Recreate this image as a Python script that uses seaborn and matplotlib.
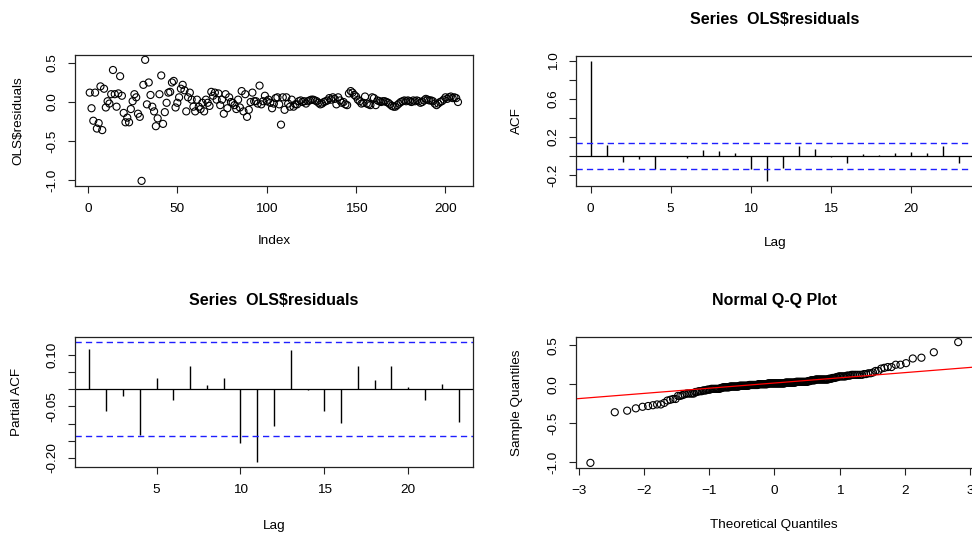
import numpy as np
import pandas as pd
import matplotlib
matplotlib.use("Agg")
import matplotlib.pyplot as plt
import seaborn as sns
from statistics import NormalDist

# ---------------- data ----------------
residuals = [
    0.12, -0.08, -0.24, 0.12, -0.34, -0.27, 0.20, -0.36, 0.17, -0.07,
    0.01, -0.02, 0.10, 0.41, 0.10, -0.06, 0.11, 0.33, 0.08, -0.14,
    -0.26, -0.20, -0.26, -0.09, 0.01, 0.10, 0.06, -0.15, -0.19, -1.01,
    0.22, 0.54, -0.03, 0.25, 0.09, -0.06, -0.12, -0.31, -0.21, 0.10,
    0.34, -0.28, -0.13, -0.01, 0.12, 0.13, 0.25, 0.27, -0.07, -0.01,
    0.06, 0.17, 0.22, 0.15, -0.12, 0.06, 0.12, 0.03, -0.06, -0.12,
    0.03, -0.06, -0.09, -0.01, -0.12, 0.03, -0.01, -0.05, 0.13, 0.08,
    0.12, 0.03, 0.11, -0.04, 0.03, -0.15, 0.10, -0.08, 0.06, 0.00,
    -0.01, -0.04, -0.09, 0.03, -0.07, 0.14, -0.12, 0.10, -0.19, -0.10,
    0.00, 0.12, 0.01, 0.01, -0.02, 0.21, -0.03, 0.01, 0.08, 0.01,
    0.03, -0.01, -0.08, -0.02, 0.05, 0.06, -0.03, -0.29, 0.06, -0.10,
    0.06, -0.02, -0.06, 0.03, -0.06, -0.03, -0.03,
    0.01, 0.02, 0.00, 0.01, -0.02, 0.01, 0.02, 0.03, 0.03, 0.02,
    0.01, -0.01, -0.03, -0.02, 0.00, 0.01, 0.02, 0.05, 0.03, 0.06,
    0.04, -0.03, 0.06, 0.02, -0.01, 0.00, -0.03, -0.04,
    0.11, 0.14, 0.12, 0.09, 0.07, 0.03, 0.01, -0.02, -0.01, 0.07,
    -0.02, -0.03, -0.04, 0.06, 0.05,
    -0.04, 0.02, 0.01, 0.00, 0.01, 0.01, 0.00, -0.01, -0.03, -0.05,
    -0.06, -0.06, -0.04, -0.02, 0.00,
    0.01, 0.02, 0.01, 0.02, 0.01, 0.00, 0.02, 0.01, 0.02, 0.01,
    -0.01, 0.00, 0.02, 0.04, 0.03, 0.02, 0.02, 0.01, -0.02, -0.04,
    -0.02, 0.00, 0.01, 0.03, 0.06, 0.04, 0.06, 0.07, 0.05, 0.06,
    0.05, 0.00,
]
acf_lags = list(range(0, 24))
acf_values = [1.00, 0.12, -0.06, -0.03, -0.14, 0.00, -0.02, 0.06, 0.05, 0.03,
              -0.14, -0.26, -0.13, 0.11, 0.07, -0.01, -0.07, 0.02, 0.015, 0.03,
              0.04, 0.03, 0.11, -0.07]
pacf_lags = list(range(1, 24))
pacf_values = [0.117, -0.065, -0.020, -0.134, 0.033, -0.033, 0.067, 0.012, 0.032,
               -0.156, -0.213, -0.108, 0.113, -0.004, -0.063, -0.099, 0.068, 0.027,
               0.067, 0.005, -0.033, 0.015, -0.096]
conf_limit = 0.136

# ---------------- style ----------------
sns.set_style("white")
plt.rcParams['font.family'] = ['Liberation Sans', 'DejaVu Sans']
plt.rcParams['text.parse_math'] = False
plt.rcParams['text.color'] = 'black'
plt.rcParams['axes.labelcolor'] = 'black'
plt.rcParams['axes.titlecolor'] = 'black'

W, H = 972, 533
fig = plt.figure(figsize=(W / 100, H / 100), dpi=100)


def add_ax(l, t, r, b):
    return fig.add_axes([l / W, 1 - b / H, (r - l) / W, (b - t) / H])


ax1 = add_ax(75, 55, 472.7, 185.7)
ax2 = add_ax(576, 55.7, 973.4, 185.7)
ax3 = add_ax(74.7, 337.3, 473.3, 467.3)
ax4 = add_ax(575.7, 337.3, 972.9, 467.7)

TICK_FS = 9.7
LAB_FS = 9.7
TITLE_FS = 11.5
BLUE = "#1f1fff"


def style(ax, xlabel, ylabel, title=None, xlab_y=-0.38, ylab_x=-0.13):
    for s in ax.spines.values():
        s.set_visible(True)
        s.set_color("#222222")
        s.set_linewidth(0.9)
    ax.tick_params(axis="both", direction="out", length=4.8, width=0.8,
                   color="#222222", labelsize=TICK_FS, labelcolor="black",
                   bottom=True, left=True, top=False, right=False)
    ax.tick_params(axis="x", pad=7.5)
    ax.tick_params(axis="y", pad=7, labelrotation=90)
    for lbl in ax.get_yticklabels():
        lbl.set_va("center")
    ax.set_xlabel(xlabel, fontsize=LAB_FS, color="black")
    ax.set_ylabel(ylabel, fontsize=LAB_FS, color="black")
    ax.xaxis.set_label_coords(0.5, xlab_y)
    ax.yaxis.set_label_coords(ylab_x, 0.5)
    ax.grid(False)
    if title:
        ax.set_title(title, fontsize=TITLE_FS, fontweight="bold", pad=23,
                     color="black")


circle_kw = dict(marker="o", s=26, facecolors="none", edgecolor="black",
                 linewidth=0.8, legend=False)

# ---- Panel 1: residuals vs index ----
n = len(residuals)
df_res = pd.DataFrame({"Index": np.arange(1, n + 1), "res": residuals})
sns.scatterplot(data=df_res, x="Index", y="res", ax=ax1, **circle_kw)
pad_x = (n - 1) * 0.04
ax1.set_xlim(1 - pad_x, n + pad_x)
rmin, rmax = min(residuals), max(residuals)
pad_y = (rmax - rmin) * 0.04
ax1.set_ylim(rmin - pad_y, rmax + pad_y)
ax1.set_xticks([0, 50, 100, 150, 200])
ax1.set_yticks([-1.0, -0.5, 0.0, 0.5])
ax1.set_yticklabels(["-1.0", "-0.5", "0.0", "0.5"])
style(ax1, "Index", "OLS$residuals", xlab_y=-0.375, ylab_x=-0.128)

# ---- Panel 2: ACF ----
ax2.vlines(acf_lags, 0, acf_values, color="black", linewidth=1.0)
ax2.axhline(0, color="black", linewidth=0.9)
ax2.axhline(conf_limit, color=BLUE, linewidth=1.0, linestyle=(0, (4.5, 3)))
ax2.axhline(-conf_limit, color=BLUE, linewidth=1.0, linestyle=(0, (4.5, 3)))
lo, hi = min(min(acf_values), -conf_limit), max(max(acf_values), conf_limit)
ax2.set_ylim(lo - (hi - lo) * 0.04, hi + (hi - lo) * 0.04)
ax2.set_xlim(-23 * 0.04, 23 + 23 * 0.04)
ax2.set_xticks([0, 5, 10, 15, 20])
ax2.set_yticks([-0.2, 0.0, 0.2, 0.4, 0.6, 0.8, 1.0])
ax2.set_yticklabels(["-0.2", "", "0.2", "", "0.6", "", "1.0"])
style(ax2, "Lag", "ACF", title="Series  OLS$residuals", xlab_y=-0.395, ylab_x=-0.133)

# ---- Panel 3: PACF ----
ax3.vlines(pacf_lags, 0, pacf_values, color="black", linewidth=1.0)
ax3.axhline(0, color="black", linewidth=0.9)
ax3.axhline(conf_limit, color=BLUE, linewidth=1.0, linestyle=(0, (4.5, 3)))
ax3.axhline(-conf_limit, color=BLUE, linewidth=1.0, linestyle=(0, (4.5, 3)))
lo, hi = min(min(pacf_values), -conf_limit), max(max(pacf_values), conf_limit)
ax3.set_ylim(lo - (hi - lo) * 0.04, hi + (hi - lo) * 0.04)
ax3.set_xlim(1 - 22 * 0.04, 23 + 22 * 0.04)
ax3.set_xticks([5, 10, 15, 20])
ax3.set_yticks([-0.20, -0.15, -0.10, -0.05, 0.0, 0.05, 0.10])
ax3.set_yticklabels(["-0.20", "", "", "-0.05", "", "", "0.10"])
style(ax3, "Lag", "Partial ACF", title="Series  OLS$residuals", xlab_y=-0.405, ylab_x=-0.129)

# ---- Panel 4: Normal Q-Q ----
nd = NormalDist()
probs = (np.arange(1, n + 1) - 0.5) / n
theo = np.array([nd.inv_cdf(p) for p in probs])
samp = np.sort(np.array(residuals))
df_qq = pd.DataFrame({"theo": theo, "samp": samp})
sns.scatterplot(data=df_qq, x="theo", y="samp", ax=ax4, **circle_kw)
q_y = np.percentile(samp, [25, 75])
q_x = np.array([nd.inv_cdf(0.25), nd.inv_cdf(0.75)])
slope = (q_y[1] - q_y[0]) / (q_x[1] - q_x[0])
ax4.axline((q_x[0], q_y[0]), slope=slope, color="red", linewidth=0.9)
tpad = (theo.max() - theo.min()) * 0.04
ax4.set_xlim(theo.min() - tpad, theo.max() + tpad)
ax4.set_ylim(rmin - pad_y, rmax + pad_y)
ax4.set_xticks([-3, -2, -1, 0, 1, 2, 3])
ax4.set_yticks([-1.0, -0.5, 0.0, 0.5])
ax4.set_yticklabels(["-1.0", "-0.5", "0.0", "0.5"])
style(ax4, "Theoretical Quantiles", "Sample Quantiles", title="Normal Q-Q Plot",
      xlab_y=-0.39, ylab_x=-0.132)

fig.savefig("out.png", dpi=100)
